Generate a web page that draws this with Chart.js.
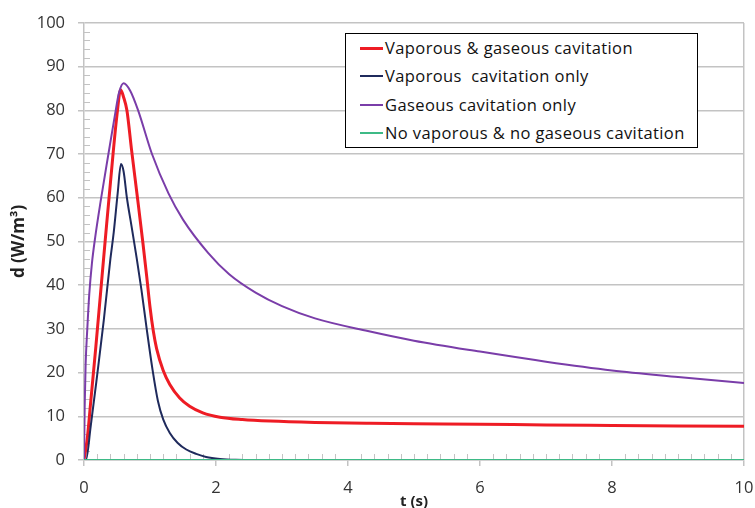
<!DOCTYPE html>
<html>
<head>
<meta charset="utf-8">
<script src="https://cdn.jsdelivr.net/npm/chart.js@4.4.1/dist/chart.umd.min.js"></script>
<style>
  html, body { margin: 0; padding: 0; background: #fff; }
  #wrap { position: relative; width: 755px; height: 508px; font-family: "Open Sans", sans-serif; }
  #legend {
    position: absolute; left: 345px; top: 33px; width: 353px;
    border: 1.5px solid #000; background: #fff; box-sizing: border-box;
    font-size: 16.5px; letter-spacing: 0.4px; color: #111;
  }
  #legend .row { height: 28.3px; line-height: 28.3px; white-space: pre; display: flex; align-items: center; }
  #legend .sw { display: inline-block; width: 23px; margin-left: 14px; margin-right: 2px; }
</style>
</head>
<body>
<div id="wrap">
  <canvas id="c" width="755" height="508"></canvas>
  <div id="legend"></div>
</div>
<script>
"use strict";

// values
const labels = [
  "Vaporous & gaseous cavitation",
  "Vaporous  cavitation only",
  "Gaseous cavitation only",
  "No vaporous & no gaseous cavitation",
];

const redT = [0, 0.05, 0.1, 0.18, 0.25, 0.32, 0.44, 0.5, 0.555, 0.6, 0.65, 0.72, 0.81, 0.89, 0.95,
  1.0, 1.05, 1.1, 1.2, 1.3, 1.45, 1.6, 1.8, 2.06, 2.4, 2.82, 3.5, 4.33, 5, 6, 7, 8, 9, 10];
const redV = [0, 5, 13, 26, 38, 50, 70, 79, 84.7, 83, 80, 71, 60, 50, 42,
  35, 29.5, 25.5, 20.5, 17.3, 14.2, 12.3, 10.8, 9.8, 9.25, 8.9, 8.6, 8.4, 8.3, 8.2, 8.0, 7.9, 7.8, 7.7];

const navyT = [0, 0.03, 0.1, 0.2, 0.3, 0.4, 0.45, 0.51, 0.56, 0.6, 0.65, 0.72, 0.8, 0.87, 0.95,
  1.04, 1.12, 1.2, 1.3, 1.42, 1.55, 1.7, 1.85, 2.06, 2.3, 2.6, 3, 4, 6, 8, 10];
const navyV = [0, 0, 7.5, 19.5, 32, 46, 52, 61, 67.7, 66, 60, 53.5, 46, 39, 30,
  20.5, 13.5, 9.3, 6.2, 3.9, 2.4, 1.4, 0.7, 0.25, 0.05, 0, 0, 0, 0, 0, 0];

const purpleT = [0, 0.01, 0.025, 0.05, 0.08, 0.12, 0.17, 0.25, 0.37, 0.47, 0.53, 0.6, 0.7, 0.82, 1.03,
  1.28, 1.5, 1.88, 2.2, 2.6, 3, 3.5, 4.3, 5, 6, 7, 8, 9, 10];
const purpleV = [0, 12, 22, 30, 38, 45, 51, 59, 70, 79, 84, 86.2, 84.5, 80, 70,
  61, 55, 47.4, 42.5, 38.3, 35.2, 32.4, 29.5, 27.3, 24.8, 22.5, 20.5, 19, 17.6];

const greenT = [0, 2, 4, 6, 8, 10];
const greenV = [0, 0, 0, 0, 0, 0];

const colors = ["#ee1c24", "#1f2a5c", "#7a3da9", "#3dba86"];
const widths = [3, 2, 2, 2];

const GRID = "#c3c3c3";
const pts = (t, v) => t.map((x, i) => ({ x, y: v[i] }));

const series = [pts(redT, redV), pts(navyT, navyV), pts(purpleT, purpleV), pts(greenT, greenV)];

// minor tick marks like the spreadsheet axes
const minorTicks = {
  id: "minorTicks",
  beforeDatasetsDraw(chart) {
    const { ctx, scales: { x, y } } = chart;
    ctx.save();
    ctx.strokeStyle = GRID;
    ctx.lineWidth = 1;
    ctx.beginPath();
    for (let v = 2; v < 100; v += 2) {
      if (v % 10 === 0) continue;
      const py = Math.round(y.getPixelForValue(v)) + 0.5;
      ctx.moveTo(x.left, py); ctx.lineTo(x.left + 6, py);
    }
    for (let i = 1; i < 50; i++) {
      if (i % 10 === 0) continue;
      const px = Math.round(x.getPixelForValue(i * 0.2)) + 0.5;
      ctx.moveTo(px, y.bottom); ctx.lineTo(px, y.bottom - 6);
    }
    ctx.stroke();
    ctx.restore();
  },
};

const tickFont = { family: "'Open Sans', sans-serif", size: 16.5 };

new Chart(document.getElementById("c"), {
  type: "line",
  data: {
    datasets: series.map((d, i) => ({
      label: labels[i],
      data: d,
      borderColor: colors[i],
      borderWidth: widths[i],
      pointRadius: 0,
      cubicInterpolationMode: "monotone",
      fill: false,
      order: 3 - i,
    })),
  },
  options: {
    responsive: false,
    animation: false,
    events: [],
    layout: { padding: { top: 17, right: 11, left: 0, bottom: 0 } },
    plugins: { legend: { display: false }, tooltip: { enabled: false } },
    scales: {
      x: {
        type: "linear", min: 0, max: 10,
        // fixed plot box; the end label may hang into the margin
        afterFit: (s) => { s.height = 48; s.paddingLeft = 0; s.paddingRight = 0; },
        ticks: { stepSize: 2, font: tickFont, color: "#333", padding: 12 },
        grid: {
          color: (c) => (c.tick && c.tick.value === 10 ? GRID : "transparent"),
          tickColor: GRID, tickLength: 6, lineWidth: 1.5,
        },
        border: { color: GRID, width: 1.5 },
        title: {
          display: true, text: "t (s)", color: "#222",
          font: { family: "'Open Sans', sans-serif", size: 15, weight: "bold" },
          padding: { top: 0, bottom: -3 },
        },
      },
      y: {
        min: 0, max: 100,
        afterFit: (s) => { s.width = 84; },
        ticks: { stepSize: 10, font: tickFont, color: "#333", padding: 13 },
        grid: { color: GRID, tickColor: GRID, tickLength: 6, lineWidth: 1.5 },
        border: { color: GRID, width: 1.5 },
        title: {
          display: true, text: "d (W/m³)", color: "#222",
          font: { family: "'Open Sans', sans-serif", size: 17, weight: "bold" },
          padding: { top: 9, bottom: 0 },
        },
      },
    },
  },
  plugins: [minorTicks],
});

// legend box drawn as html on top of the plot
document.getElementById("legend").innerHTML = labels.map((l, i) =>
  `<div class="row"><span class="sw" style="border-top:${widths[i]}px solid ${colors[i]}"></span>${l}</div>`
).join("");
</script>
</body>
</html>
